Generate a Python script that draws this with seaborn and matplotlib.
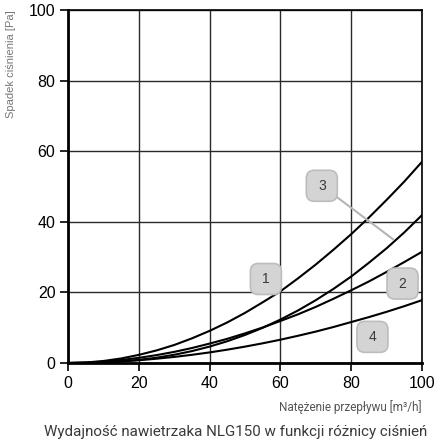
import matplotlib.pyplot as plt
import seaborn as sns
import pandas as pd
from matplotlib.patches import FancyBboxPatch
from matplotlib.transforms import ScaledTranslation

# flow [m3/h] and pressure drop [Pa]
flow = [0, 5, 10, 15, 20, 25, 30, 35, 40, 45, 50, 55, 60, 65, 70, 75, 80, 85, 90, 95, 100]
curve_1 = [0, 0.14, 0.57, 1.28, 2.3, 3.56, 5.1, 6.98, 9.1, 11.5, 14.2, 17.2, 20.3, 24.0, 27.9, 32.1, 36.5, 41.2, 46.2, 51.4, 57.0]
curve_2 = [0, 0.10, 0.39, 0.84, 1.46, 2.23, 3.15, 4.24, 5.5, 6.85, 8.4, 10.05, 11.9, 13.8, 15.9, 18.2, 20.6, 23.1, 25.8, 28.6, 31.5]
curve_3 = [0, 0.03, 0.17, 0.44, 0.88, 1.50, 2.33, 3.37, 4.65, 6.17, 7.94, 9.98, 12.3, 14.9, 17.8, 21.0, 24.5, 28.4, 32.5, 37.0, 41.9]
curve_4 = [0, 0.05, 0.20, 0.45, 0.78, 1.21, 1.72, 2.32, 3.0, 3.78, 4.64, 5.58, 6.6, 7.72, 8.9, 10.2, 11.6, 13.0, 14.5, 16.1, 17.8]

ticks = [0, 20, 40, 60, 80, 100]

# curve number labels: text, x, y
label_names = ['1', '2', '3', '4']
label_x = [55.9, 94.5, 71.7, 86.0]
label_y = [23.8, 22.5, 50.2, 7.4]
leader_x = [71.7, 91.9]
leader_y = [50.2, 35.0]

df = pd.concat([
    pd.DataFrame({'flow': flow, 'dp': vals, 'curve': name})
    for name, vals in zip(['1', '2', '3', '4'], [curve_1, curve_2, curve_3, curve_4])
])

sns.set_theme(style='ticks')
plt.rcParams['font.family'] = ['Liberation Sans', 'DejaVu Sans']

fig = plt.figure(figsize=(4.4, 4.43), dpi=100)
ax = fig.add_axes([68 / 440, 80 / 443, 354 / 440, 353 / 443])

sns.lineplot(data=df, x='flow', y='dp', hue='curve', palette=['black'] * 4,
             legend=False, linewidth=1.5, ax=ax, zorder=3)

ax.set_xlim(0, 100)
ax.set_ylim(0, 100)
ax.set_xticks(ticks)
ax.set_yticks(ticks)
ax.grid(True, color='#2a2a2a', linewidth=1.0)
ax.set_axisbelow(True)
for side in ['top', 'right']:
    ax.spines[side].set_linewidth(1.2)
    ax.spines[side].set_color('black')
for side in ['left', 'bottom']:
    ax.spines[side].set_linewidth(2.0)
    ax.spines[side].set_color('black')
ax.tick_params(axis='both', direction='out', length=6, width=1.2, color='black',
               labelsize=11.5, labelcolor='black', pad=3)

ax.set_ylabel('Spadek ciśnienia [Pa]', loc='top', fontsize=8, color='#777777', labelpad=9)
ax.set_xlabel('Natężenie przepływu [m³/h]', loc='right', fontsize=8.5, color='#555555',
              labelpad=7, family=['Roboto', 'DejaVu Sans'])

# leader line for curve 3
ax.plot(leader_x, leader_y, color='#b5b5b5', linewidth=1.5, zorder=3.5)

for name, lx, ly in zip(label_names, label_x, label_y):
    tr = fig.dpi_scale_trans + ScaledTranslation(lx, ly, ax.transData)
    box = FancyBboxPatch((-0.155, -0.155), 0.31, 0.31,
                         boxstyle='round,pad=0,rounding_size=0.08',
                         transform=tr, facecolor='#d4d4d4', edgecolor='#bdbdbd',
                         linewidth=1.2, zorder=4)
    ax.add_patch(box)
    ax.text(lx, ly, name, ha='center', va='center', fontsize=10, color='#3a3a3a', zorder=5)

fig.text(44 / 440, 1 - 432 / 443, 'Wydajność nawietrzaka NLG150 w funkcji różnicy ciśnień',
         ha='left', va='center', fontsize=10.9, color='#3a3a3a', family=['Roboto', 'DejaVu Sans'])

plt.savefig('out.png', dpi=100)
